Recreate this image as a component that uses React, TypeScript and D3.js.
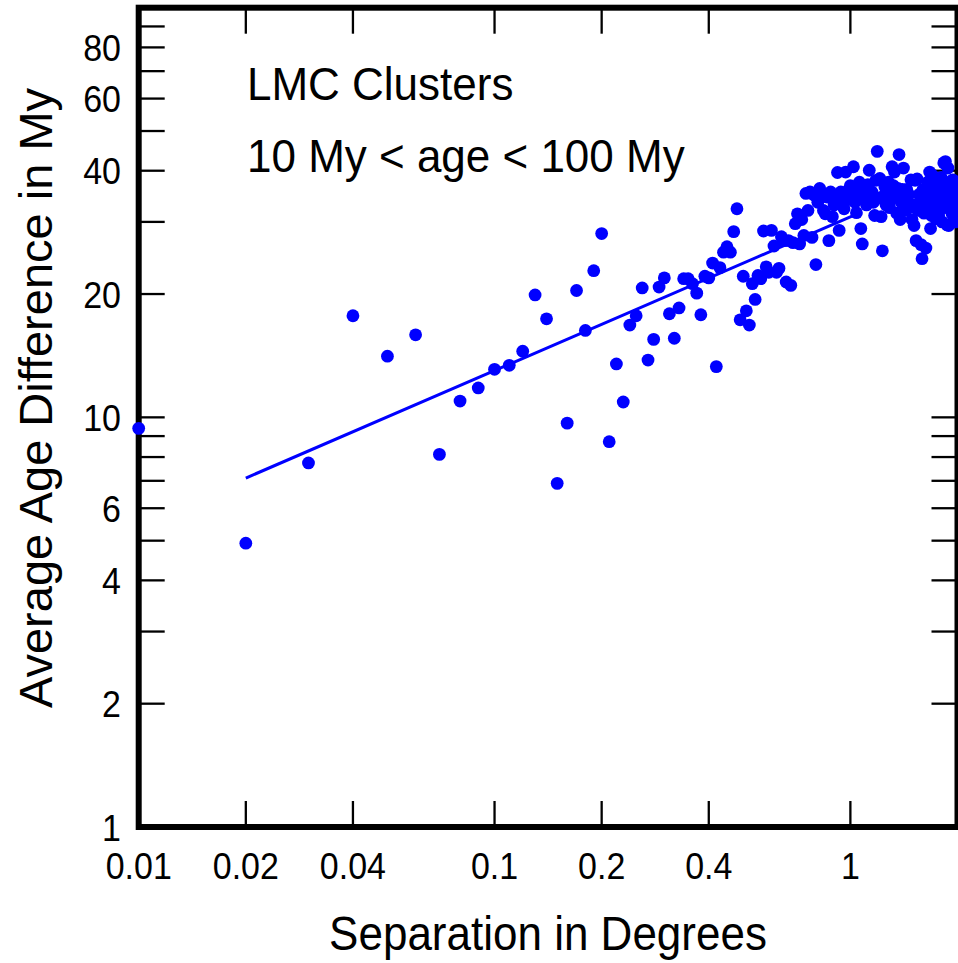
import React from 'react';
import * as d3 from 'd3';

const separation = [
  0.01, 0.02, 0.03, 0.04, 0.05, 0.06, 0.07, 0.08, 0.09, 0.10,
  0.11, 0.12, 0.13, 0.14, 0.15, 0.16, 0.17, 0.18, 0.19, 0.20,
  0.21, 0.22, 0.23, 0.24, 0.25, 0.26, 0.27, 0.28, 0.29, 0.30,
  0.31, 0.32, 0.33, 0.34, 0.35, 0.36, 0.37, 0.38, 0.39, 0.40,
  0.41, 0.42, 0.43, 0.44, 0.45, 0.46, 0.47, 0.48, 0.49, 0.50,
  0.51, 0.52, 0.53, 0.54, 0.55, 0.56, 0.57, 0.58, 0.59, 0.60,
  0.61, 0.62, 0.63, 0.64, 0.65, 0.66, 0.67, 0.68, 0.69, 0.70,
  0.71, 0.72, 0.73, 0.74, 0.75, 0.76, 0.77, 0.78, 0.79, 0.80,
  0.81, 0.82, 0.83, 0.84, 0.85, 0.86, 0.87, 0.88, 0.89, 0.90,
  0.91, 0.92, 0.93, 0.94, 0.95, 0.96, 0.97, 0.98, 0.99, 1.00,
  1.01, 1.02, 1.03, 1.04, 1.05, 1.06, 1.07, 1.08, 1.09, 1.10,
  1.11, 1.12, 1.13, 1.14, 1.15, 1.16, 1.17, 1.18, 1.19, 1.20,
  1.21, 1.22, 1.23, 1.24, 1.25, 1.26, 1.27, 1.28, 1.29, 1.30,
  1.31, 1.32, 1.33, 1.34, 1.35, 1.36, 1.37, 1.38, 1.39, 1.40,
  1.41, 1.42, 1.43, 1.44, 1.45, 1.46, 1.47, 1.48, 1.49, 1.50,
  1.51, 1.52, 1.53, 1.54, 1.55, 1.56, 1.57, 1.58, 1.59, 1.60,
  1.61, 1.62, 1.63, 1.64, 1.65, 1.66, 1.67, 1.68, 1.69, 1.70,
  1.71, 1.72, 1.73, 1.74, 1.75, 1.76, 1.77, 1.78, 1.79, 1.80,
  1.81, 1.82, 1.83, 1.84, 1.85, 1.86, 1.87, 1.88, 1.89, 1.90,
  1.91, 1.92, 1.93, 1.94, 1.95, 1.96, 1.97, 1.98, 1.99, 2.00,
];

const ageDiff = [
  9.4, 4.93, 7.74, 17.7, 14.1, 15.9, 8.12, 10.96, 11.8, 13.1,
  13.4, 14.5, 19.9, 17.4, 6.9, 9.68, 20.4, 16.3, 22.8, 28.1,
  8.72, 13.5, 10.9, 16.8, 17.7, 20.7, 13.8, 15.5, 20.8, 21.9,
  17.9, 15.6, 18.5, 21.8, 21.8, 21.2, 20.1, 17.8, 22.1, 21.9,
  23.8, 13.3, 23.2, 25.3, 26.1, 25.3, 28.4, 32.3, 17.3, 22.1,
  18.2, 16.8, 21.2, 19.4, 22.2, 21.8, 28.5, 23.3, 22.6, 28.6,
  26.2, 22.6, 23.1, 27.6, 27.0, 21.4, 27.0, 21.0, 26.7, 29.7,
  31.4, 26.5, 30.4, 27.8, 35.2, 32.0, 35.5, 27.5, 34.9, 23.6,
  33.5, 36.2, 34.5, 32.0, 31.4, 34.5, 27.0, 35.5, 30.9, 33.0,
  33.8, 39.6, 28.6, 35.5, 33.5, 32.3, 39.7, 35.0, 36.0, 36.8,
  34.0, 40.9, 33.5, 31.6, 35.5, 37.5, 28.9, 26.5, 36.0, 34.2,
  33.0, 37.0, 40.1, 34.7, 35.5, 33.5, 31.1, 37.9, 44.6, 34.3,
  38.3, 30.9, 25.5, 34.7, 36.5, 33.0, 35.5, 37.5, 32.5, 34.0,
  40.9, 36.8, 39.7, 35.0, 31.5, 36.2, 43.8, 30.4, 33.5, 36.0,
  40.6, 34.5, 32.0, 36.0, 33.3, 35.0, 32.6, 38.0, 30.4, 33.0,
  29.4, 37.9, 27.0, 38.2, 32.0, 35.0, 33.5, 26.4, 24.4, 36.0,
  31.5, 34.5, 25.9, 32.3, 37.5, 33.0, 39.7, 28.9, 31.1, 39.0,
  35.0, 36.5, 33.0, 30.5, 37.0, 34.0, 31.0, 36.0, 33.5, 38.5,
  30.0, 36.2, 41.8, 32.5, 42.1, 34.6, 29.5, 40.6, 29.4, 37.5,
  33.0, 35.5, 31.4, 38.0, 33.0, 36.2, 30.0, 34.5, 37.5, 32.5,
];

const fitSeparation = [0.02, 1.03];
const fitAge = [7.11, 31.2];

const xTickValues = [0.01, 0.02, 0.04, 0.1, 0.2, 0.4, 1];
const xTickLabels = ['0.01', '0.02', '0.04', '0.1', '0.2', '0.4', '1'];
const yTickValues = [1, 2, 3, 4, 5, 6, 7, 8, 9, 10, 20, 30, 40, 50, 60, 70, 80, 90];
const yLabelValues = [1, 2, 4, 6, 10, 20, 40, 60, 80];
const yLabelTexts = ['1', '2', '4', '6', '10', '20', '40', '60', '80'];

const xTitle = 'Separation in Degrees';
const yTitle = 'Average Age Difference in My';
const note1 = 'LMC Clusters';
const note2 = '10 My < age < 100 My';

export default function App() {
  const W = 958;
  const H = 963;
  const left = 138.7;
  const right = 957.5;
  const top = 7.7;
  const bottom = 827;
  const tickLen = 26;
  const font = "'Liberation Sans', Arial, Helvetica, sans-serif";
  const blue = '#0000ff';

  const x = d3.scaleLog().domain([0.01, 2]).range([left, right]);
  const y = d3.scaleLog().domain([1, 100]).range([bottom, top]);

  const fitPts: [number, number][] = fitSeparation.map((s, i) => [s, fitAge[i]]);
  const line = d3
    .line<[number, number]>()
    .x((d) => x(d[0]))
    .y((d) => y(d[1]));

  const tickFs = 34;
  const tickSy = 1.11;
  const capH = tickFs * 0.716 * tickSy;

  return (
    <svg
      width={W}
      height={H}
      viewBox={`0 0 ${W} ${H}`}
      style={{ position: 'absolute', left: 0, top: 0, background: '#fff' }}
    >
      <rect x={0} y={0} width={W} height={H} fill="#fff" />
      {/* ticks */}
      {xTickValues.map((v, i) => (
        <g key={'xt' + i} stroke="#000" strokeWidth={2.3}>
          <line x1={x(v)} x2={x(v)} y1={bottom} y2={bottom - tickLen} />
          <line x1={x(v)} x2={x(v)} y1={top} y2={top + tickLen} />
        </g>
      ))}
      {yTickValues.map((v, i) => (
        <g key={'yt' + i} stroke="#000" strokeWidth={2.3}>
          <line x1={left} x2={left + tickLen} y1={y(v)} y2={y(v)} />
          <line x1={right} x2={right - tickLen} y1={y(v)} y2={y(v)} />
        </g>
      ))}
      {/* frame */}
      <rect
        x={left}
        y={top}
        width={right - left}
        height={bottom - top}
        fill="none"
        stroke="#000"
        strokeWidth={6}
      />
      {/* tick labels */}
      {xTickValues.map((v, i) => (
        <text
          key={'xl' + i}
          transform={`translate(${x(v)},879) scale(1,${tickSy})`}
          textAnchor="middle"
          fontFamily={font}
          fontSize={tickFs}
          fill="#000"
        >
          {xTickLabels[i]}
        </text>
      ))}
      {yLabelValues.map((v, i) => (
        <text
          key={'yl' + i}
          transform={`translate(121,${y(v) + capH / 2}) scale(1,${tickSy})`}
          textAnchor="end"
          fontFamily={font}
          fontSize={tickFs}
          fill="#000"
        >
          {yLabelTexts[i]}
        </text>
      ))}
      {/* axis titles */}
      <text
        transform={`translate(548,950) scale(1,1.1)`}
        textAnchor="middle"
        fontFamily={font}
        fontSize={44}
        fill="#000"
      >
        {xTitle}
      </text>
      <text
        transform={`translate(52,398) rotate(-90)`}
        textAnchor="middle"
        fontFamily={font}
        fontSize={47}
        fill="#000"
      >
        {yTitle}
      </text>
      {/* annotations */}
      <text
        transform={`translate(247,100) scale(1,1.07)`}
        fontFamily={font}
        fontSize={44}
        fill="#000"
      >
        {note1}
      </text>
      <text
        transform={`translate(247,172) scale(1,1.07)`}
        fontFamily={font}
        fontSize={44}
        fill="#000"
      >
        {note2}
      </text>
      {/* fit line */}
      <path d={line(fitPts) || ''} fill="none" stroke={blue} strokeWidth={3} />
      {/* points */}
      {separation.map((s, i) => (
        <circle key={'p' + i} cx={x(s)} cy={y(ageDiff[i])} r={6.4} fill={blue} />
      ))}
    </svg>
  );
}
